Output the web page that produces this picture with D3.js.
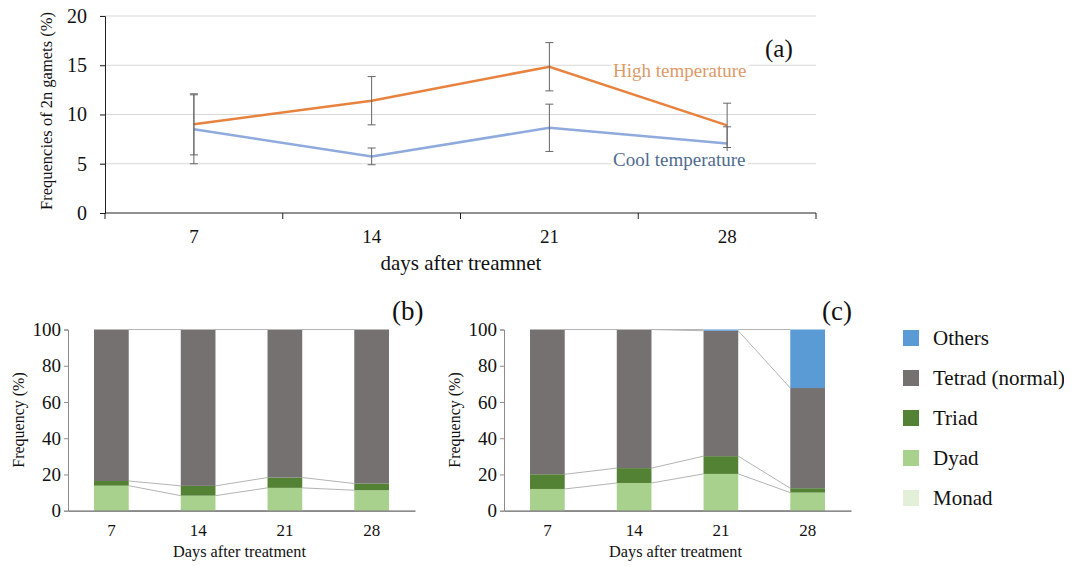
<!DOCTYPE html>
<html lang="en">
<head>
    <meta charset="UTF-8">
    <title>2n gamete frequencies</title>
    <script src="https://d3js.org/d3.v7.min.js"></script>
</head>
<body>
    <svg id="chart" width="1072" height="566"></svg>
    <script>
        // ---- data ----
        const days = [7, 14, 21, 28];

        // panel (a): frequencies of 2n gametes (%)
        const highTemp = [9.0, 11.4, 14.85, 8.9];
        const highErr = [3.1, 2.45, 2.45, 2.25];
        const coolTemp = [8.5, 5.75, 8.65, 7.05];
        const coolErr = [3.5, 0.85, 2.4, 1.7];
        const yTicksA = [0, 5, 10, 15, 20];

        // panels (b) and (c): sporad types (%)
        const sporadTypes = ["Monad", "Dyad", "Triad", "Tetrad (normal)", "Others"];
        const monadB = [0, 0, 0, 0];
        const dyadB = [13.8, 8.3, 12.6, 11.3];
        const triadB = [2.6, 5.4, 5.7, 3.7];
        const tetradB = [83.6, 86.3, 81.7, 85.0];
        const othersB = [0, 0, 0, 0];

        const monadC = [0, 0, 0, 0];
        const dyadC = [12.0, 15.3, 20.3, 10.0];
        const triadC = [8.1, 8.2, 9.8, 2.4];
        const tetradC = [79.9, 76.5, 69.2, 55.3];
        const othersC = [0, 0, 0.7, 32.3];
        const yTicksB = [0, 20, 40, 60, 80, 100];

        const colors = {
            "Monad": "#e2f0d9",
            "Dyad": "#a9d18e",
            "Triad": "#548235",
            "Tetrad (normal)": "#767171",
            "Others": "#5b9bd5"
        };

        const FONT = "Liberation Serif";

        // body keeps its default 8px margin; the root group shifts back by it
        const root = d3.select("#chart");
        const svg = root.append("g").attr("transform", "translate(-8,-8)");
        svg.append("rect").attr("x", 0).attr("y", 0).attr("width", 1080).attr("height", 574).attr("fill", "#fff");

        // every text gets the serif font inline
        function txt(g) {
            return g.append("text").style("font-family", FONT).attr("fill", "#111");
        }

        // ---- panel (a) ----
        const xA = d3.scaleBand().domain(days).range([105, 816]).padding(0);
        const yA = d3.scaleLinear().domain([0, 20]).range([213, 16]);
        const cx = d => xA(d) + xA.bandwidth() / 2;

        const gA = svg.append("g");

        // gridlines
        gA.selectAll(".grid")
            .data(yTicksA.filter(v => v > 0))
            .enter().append("line")
            .attr("x1", 100).attr("x2", 816)
            .attr("y1", d => yA(d)).attr("y2", d => yA(d))
            .attr("stroke", "#d9d9d9").attr("stroke-width", 1);

        // y axis
        const yAxisA = gA.append("g")
            .attr("transform", "translate(105,0)")
            .call(d3.axisLeft(yA).tickValues(yTicksA).tickSize(5).tickPadding(13));
        yAxisA.attr("font-family", null);
        yAxisA.select(".domain").attr("stroke", "#222");
        yAxisA.selectAll(".tick line").attr("stroke", "#222");
        yAxisA.selectAll("text")
            .style("font-family", FONT).attr("font-size", 20).attr("fill", "#111");

        // x axis: labels centred, ticks between categories
        gA.append("line")
            .attr("x1", 105).attr("x2", 816)
            .attr("y1", yA(0)).attr("y2", yA(0))
            .attr("stroke", "#222").attr("stroke-width", 1.2);
        const bounds = days.map(d => xA(d)).concat([xA(days[days.length - 1]) + xA.bandwidth()]);
        gA.selectAll(".xtick")
            .data(bounds)
            .enter().append("line")
            .attr("x1", d => d).attr("x2", d => d)
            .attr("y1", yA(0)).attr("y2", yA(0) + 6)
            .attr("stroke", "#222");
        days.forEach(d => {
            txt(gA).attr("x", cx(d)).attr("y", 243)
                .attr("text-anchor", "middle").attr("font-size", 19)
                .text(d);
        });

        txt(gA).attr("x", 461).attr("y", 270)
            .attr("text-anchor", "middle").attr("font-size", 21)
            .text("days after treamnet");

        txt(gA).attr("transform", "translate(52,111) rotate(-90)")
            .attr("text-anchor", "middle").attr("font-size", 16.5)
            .text("Frequencies of 2n gamets (%)");

        // lines
        const series = [
            { name: "High temperature", values: highTemp, err: highErr, color: "#e8833f", label: "#dc9a68", ly: 77 },
            { name: "Cool temperature", values: coolTemp, err: coolErr, color: "#8faadc", label: "#4f6b91", ly: 166 }
        ];
        const line = d3.line().x((d, i) => cx(days[i])).y(d => yA(d));

        series.forEach(s => {
            gA.append("path")
                .datum(s.values)
                .attr("d", line)
                .attr("fill", "none")
                .attr("stroke", s.color)
                .attr("stroke-width", 2.5);
        });

        // error bars
        series.forEach(s => {
            const eb = gA.append("g");
            s.values.forEach((v, i) => {
                const x = cx(days[i]);
                const lo = yA(v - s.err[i]), hi = yA(v + s.err[i]);
                eb.append("line").attr("x1", x).attr("x2", x).attr("y1", lo).attr("y2", hi)
                    .attr("stroke", "#666").attr("stroke-width", 1);
                [lo, hi].forEach(yy => {
                    eb.append("line").attr("x1", x - 4).attr("x2", x + 4).attr("y1", yy).attr("y2", yy)
                        .attr("stroke", "#666").attr("stroke-width", 1);
                });
            });
        });

        // series labels with white background
        series.forEach(s => {
            const t = txt(gA)
                .attr("x", 613).attr("y", s.ly)
                .attr("font-size", 19).attr("fill", s.label)
                .text(s.name);
            const bb = t.node().getBBox();
            gA.insert("rect", () => t.node())
                .attr("x", bb.x - 2).attr("y", bb.y + 2).attr("width", bb.width + 4).attr("height", bb.height - 2)
                .attr("fill", "#fff");
        });

        txt(gA).attr("x", 765).attr("y", 57)
            .attr("font-size", 25)
            .text("(a)");

        // ---- panels (b) and (c) ----
        function drawStack(opt) {
            const rows = days.map((d, i) => ({
                day: d,
                "Monad": opt.monad[i],
                "Dyad": opt.dyad[i],
                "Triad": opt.triad[i],
                "Tetrad (normal)": opt.tetrad[i],
                "Others": opt.others[i]
            }));
            const stacked = d3.stack().keys(sporadTypes)(rows);

            const x = d3.scaleBand().domain(days).range([opt.x0, opt.x1])
                .paddingInner(0.6).paddingOuter(0.3);
            const y = d3.scaleLinear().domain([0, 100]).range([510.7, 329.5]);
            const g = svg.append("g");

            // series lines between bars
            stacked.forEach(layer => {
                for (let i = 0; i < days.length - 1; i++) {
                    g.append("line")
                        .attr("x1", x(days[i]) + x.bandwidth()).attr("y1", y(layer[i][1]))
                        .attr("x2", x(days[i + 1])).attr("y2", y(layer[i + 1][1]))
                        .attr("stroke", "#b4b4b4").attr("stroke-width", 1);
                }
            });

            g.selectAll(".layer")
                .data(stacked)
                .enter().append("g")
                .attr("fill", d => colors[d.key])
                .selectAll("rect")
                .data(d => d)
                .enter().append("rect")
                .attr("x", d => x(d.data.day))
                .attr("width", x.bandwidth())
                .attr("y", d => y(d[1]))
                .attr("height", d => y(d[0]) - y(d[1]));

            const yAxis = g.append("g")
                .attr("transform", `translate(${opt.x0},0)`)
                .call(d3.axisLeft(y).tickValues(yTicksB).tickSize(4).tickPadding(3));
            yAxis.attr("font-family", null);
            yAxis.select(".domain").attr("stroke", "#8c8c8c");
            yAxis.selectAll(".tick line").attr("stroke", "#8c8c8c");
            yAxis.selectAll("text")
                .style("font-family", FONT).attr("font-size", 19).attr("fill", "#111");

            const xAxis = g.append("g")
                .attr("transform", `translate(0,${y(0)})`)
                .call(d3.axisBottom(x).tickSize(0).tickPadding(13));
            xAxis.attr("font-family", null);
            xAxis.select(".domain").attr("stroke", "#666").attr("stroke-width", 1.3);
            xAxis.selectAll("text")
                .style("font-family", FONT).attr("font-size", 17).attr("fill", "#111");

            txt(g).attr("x", (opt.x0 + opt.x1) / 2 - 2).attr("y", 557)
                .attr("text-anchor", "middle").attr("font-size", 16.3)
                .text("Days after treatment");

            txt(g).attr("transform", `translate(${opt.x0 - 44},420) rotate(-90)`)
                .attr("text-anchor", "middle").attr("font-size", 16)
                .text("Frequency (%)");

            txt(g).attr("x", opt.tagX).attr("y", 320)
                .attr("font-size", 27)
                .text(opt.tag);
        }

        drawStack({ x0: 68, x1: 415, monad: monadB, dyad: dyadB, triad: triadB, tetrad: tetradB, others: othersB, tag: "(b)", tagX: 392 });
        drawStack({ x0: 504, x1: 851, monad: monadC, dyad: dyadC, triad: triadC, tetrad: tetradC, others: othersC, tag: "(c)", tagX: 822 });

        // legend
        const legend = svg.append("g");
        const legendOrder = sporadTypes.slice().reverse();
        legendOrder.forEach((k, i) => {
            const yy = 338 + i * 40;
            legend.append("rect")
                .attr("x", 903).attr("y", yy - 8).attr("width", 16).attr("height", 16)
                .attr("fill", colors[k]);
            txt(legend).attr("x", 933).attr("y", yy + 7)
                .attr("font-size", 21)
                .text(k);
        });
    </script>
</body>
</html>
